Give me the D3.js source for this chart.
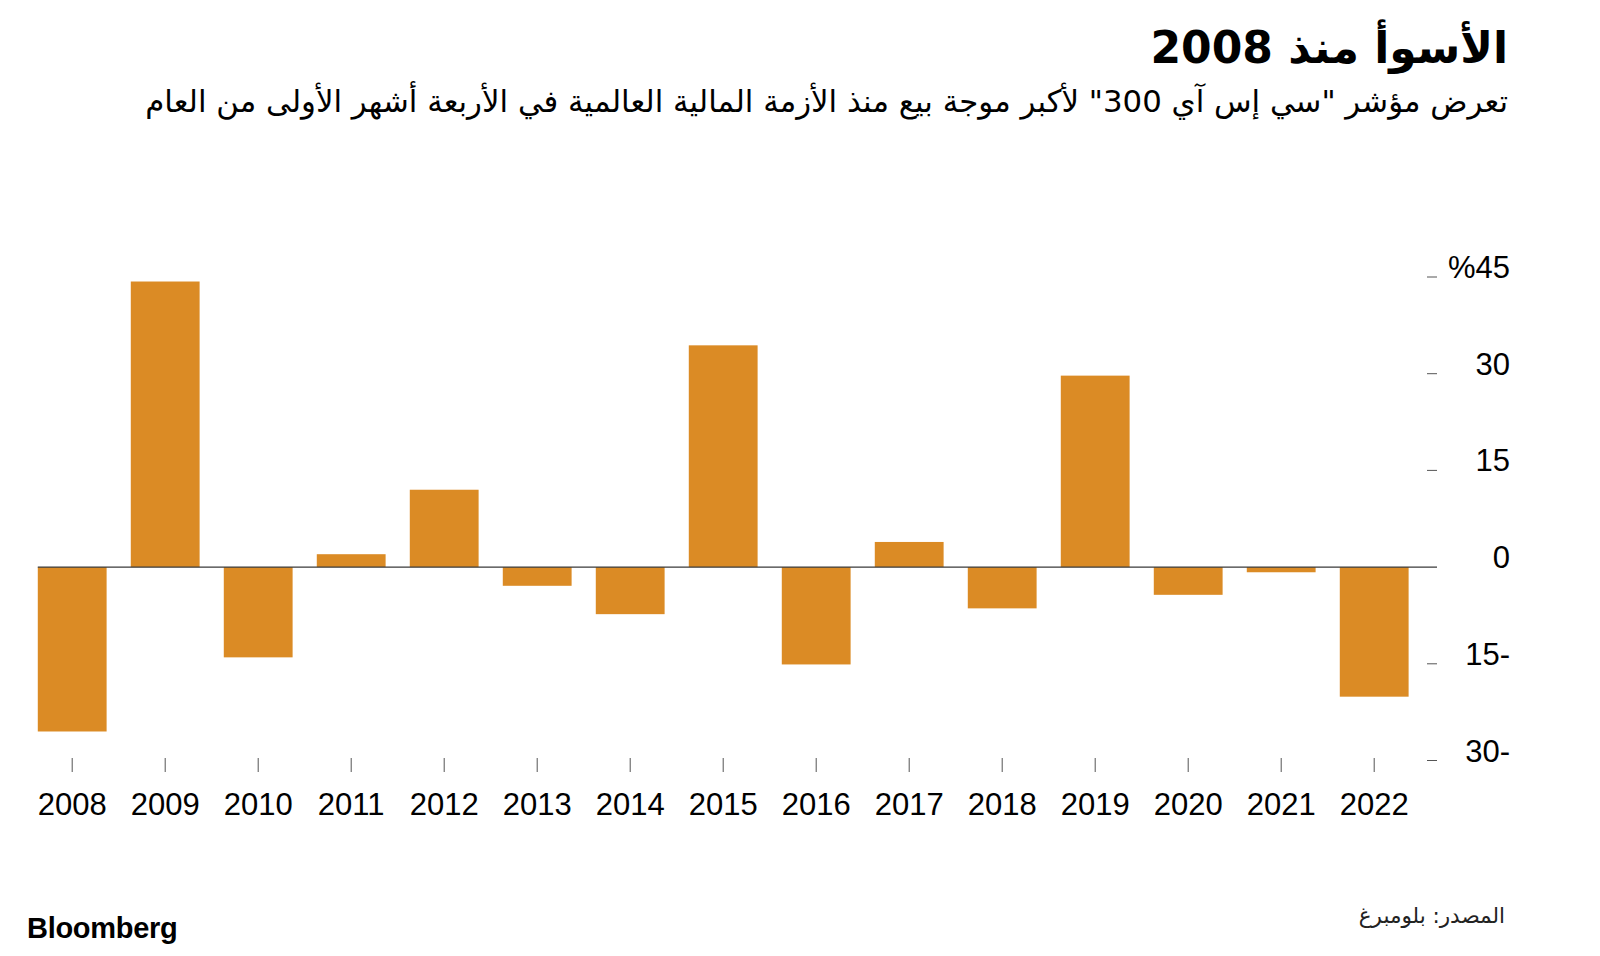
<!DOCTYPE html>
<html><head><meta charset="utf-8">
<script src="https://cdn.jsdelivr.net/npm/d3@7"></script>
<style>body{margin:0;background:#fff}svg{display:block}</style>
</head><body><svg id="c" width="1600" height="956"></svg>
<script>
const years = ["2008","2009","2010","2011","2012","2013","2014","2015","2016","2017","2018","2019","2020","2021","2022"];
const values = [-25.5, 44.3, -14.0, 2.0, 12.0, -2.9, -7.3, 34.4, -15.1, 3.9, -6.4, 29.7, -4.3, -0.8, -20.1];
const yTicks = [45, 30, 15, 0, -15, -30];
const yTickLabels = ["%45", "30", "15", "0", "15-", "30-"];
const title = "الأسوأ منذ 2008";
const subtitle = 'تعرض مؤشر "سي إس آي 300" لأكبر موجة بيع منذ الأزمة المالية العالمية في الأربعة أشهر الأولى من العام';
const source = "المصدر: بلومبرغ";
const brand = "Bloomberg";

const svg = d3.select("#c");
const numFont = '"Liberation Sans", Arial, Helvetica, sans-serif';
const arFont = '"DejaVu Sans", "Noto Sans", sans-serif';

const x = d3.scaleBand().domain(years).range([25.7, 1420.7]).paddingInner(0.26).paddingOuter(0.13);
const y = d3.scaleLinear().domain([-30, 45]).range([760.5, 277]);

// bars
svg.append("g").selectAll("rect").data(values).join("rect")
  .attr("x", (d, i) => x(years[i]))
  .attr("width", x.bandwidth())
  .attr("y", d => y(Math.max(0, d)))
  .attr("height", d => Math.abs(y(d) - y(0)))
  .attr("fill", "#DB8B25");

// zero line
svg.append("line")
  .attr("x1", x(years[0])).attr("x2", 1437)
  .attr("y1", y(0)).attr("y2", y(0))
  .attr("stroke", "#3a3a3a").attr("stroke-width", 1.3);

// y ticks
const yg = svg.append("g");
yg.selectAll("line").data(yTicks.filter(d => d !== 0)).join("line")
  .attr("x1", 1427).attr("x2", 1437)
  .attr("y1", d => y(d)).attr("y2", d => y(d))
  .attr("stroke", "#555").attr("stroke-width", 1);
yg.selectAll("text").data(yTicks).join("text")
  .attr("x", 1510).attr("y", d => y(d) + 1)
  .attr("text-anchor", "end")
  .attr("font-family", numFont).attr("font-size", 31).attr("fill", "#000")
  .text((d, i) => yTickLabels[i]);

// x ticks
const xg = svg.append("g");
xg.selectAll("line").data(years).join("line")
  .attr("x1", d => x(d) + x.bandwidth() / 2).attr("x2", d => x(d) + x.bandwidth() / 2)
  .attr("y1", 758).attr("y2", 772)
  .attr("stroke", "#555").attr("stroke-width", 1);
xg.selectAll("text").data(years).join("text")
  .attr("x", d => x(d) + x.bandwidth() / 2).attr("y", 815)
  .attr("text-anchor", "middle")
  .attr("font-family", numFont).attr("font-size", 31).attr("fill", "#000")
  .text(d => d);

// title & subtitle
svg.append("text")
  .attr("x", 1508).attr("y", 63)
  .attr("direction", "rtl").attr("text-anchor", "start")
  .attr("font-family", arFont).attr("font-weight", 900).attr("font-size", 44).attr("fill", "#000")
  .text(title);
svg.append("text")
  .attr("x", 1508).attr("y", 112)
  .attr("direction", "rtl").attr("text-anchor", "start")
  .attr("font-family", arFont).attr("font-size", 30.8).attr("fill", "#000")
  .text(subtitle);

// footer
svg.append("text")
  .attr("x", 27).attr("y", 938)
  .attr("font-family", numFont).attr("font-weight", 700).attr("font-size", 29).attr("fill", "#000")
  .attr("letter-spacing", -0.3)
  .text(brand);
svg.append("text")
  .attr("x", 1505).attr("y", 923)
  .attr("direction", "rtl").attr("text-anchor", "start")
  .attr("font-family", arFont).attr("font-size", 21.5).attr("fill", "#222")
  .text(source);
</script></body></html>
